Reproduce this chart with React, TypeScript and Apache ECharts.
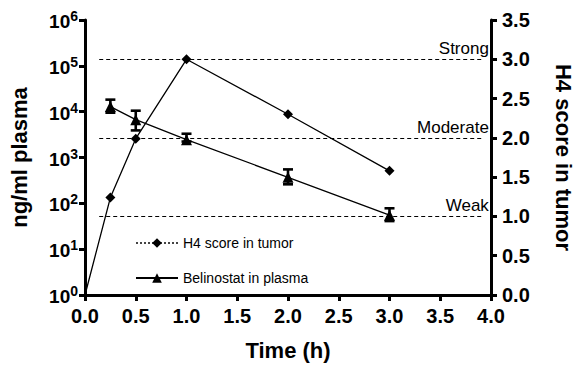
import React, { useEffect, useRef } from "react";
import * as echarts from "echarts";

const timeH4 = [0, 0.25, 0.5, 1, 2, 3];
const h4Score = [0, 1.24, 1.99, 3.0, 2.3, 1.58];
const timePlasma = [0.25, 0.5, 1, 2, 3];
const plasmaMean = [12900, 6700, 2450, 370, 55];
const plasmaLow = [9500, 3900, 2230, 260, 41];
const plasmaHigh = [18300, 10500, 3300, 550, 78];
const thresholdValues = [3, 2, 1];
const thresholdLabels = ["Strong", "Moderate", "Weak"];
const thresholdStart = 0.14;
const thresholdEnd = 3.92;

const FONT = "'Liberation Sans', Arial, Helvetica, sans-serif";

export default function App() {
  const ref = useRef<HTMLDivElement>(null);
  useEffect(() => {
    document.body.style.margin = "0";
    if (!ref.current) return;
    const chart = echarts.init(ref.current, undefined, { renderer: "svg" });
    const axisLine = { show: true, lineStyle: { color: "#000", width: 3 } };
    const axisTick = { show: true, inside: false, length: 6, lineStyle: { color: "#000", width: 3 } };
    const nameStyle = { fontSize: 22, fontWeight: "bold", color: "#000", fontFamily: FONT };
    const option: any = {
      animation: false,
      backgroundColor: "#fff",
      textStyle: { fontFamily: FONT },
      grid: { left: 84, right: 82, top: 20, bottom: 69, containLabel: false },
      legend: {
        orient: "vertical",
        left: 130,
        top: 231,
        itemWidth: 42,
        itemHeight: 12,
        itemGap: 21,
        textStyle: { fontSize: 14, color: "#000", fontFamily: FONT },
        data: [
          { name: "H4 score in tumor", lineStyle: { type: "dotted", color: "#444" } },
          { name: "Belinostat in plasma" },
        ],
      },
      xAxis: {
        type: "value",
        min: 0,
        max: 4,
        interval: 0.5,
        name: "Time (h)",
        nameLocation: "middle",
        nameGap: 44,
        nameTextStyle: nameStyle,
        axisLine,
        axisTick,
        splitLine: { show: false },
        axisLabel: {
          margin: 11,
          fontSize: 20,
          fontWeight: "bold",
          color: "#000",
          fontFamily: FONT,
          formatter: (v: number) => v.toFixed(1),
        },
      },
      yAxis: [
        {
          type: "log",
          logBase: 10,
          min: 1,
          max: 1e6,
          position: "left",
          name: "ng/ml plasma",
          nameLocation: "middle",
          nameGap: 55,
          nameTextStyle: nameStyle,
          axisLine,
          axisTick,
          splitLine: { show: false },
          minorTick: { show: false },
          axisLabel: {
            margin: 7,
            color: "#000",
            formatter: (v: number) => `{b|10}{s|${Math.round(Math.log10(v))}}`,
            rich: {
              b: { fontSize: 19, fontWeight: "bold", color: "#000", fontFamily: FONT, verticalAlign: "bottom", lineHeight: 22 },
              s: { fontSize: 14, fontWeight: "bold", color: "#000", fontFamily: FONT, verticalAlign: "top", lineHeight: 22 },
            },
          },
        },
        {
          type: "value",
          min: 0,
          max: 3.5,
          interval: 0.5,
          position: "right",
          name: "H4 score in tumor",
          nameLocation: "middle",
          nameRotate: -90,
          nameGap: 61,
          nameTextStyle: nameStyle,
          axisLine,
          axisTick,
          splitLine: { show: false },
          axisLabel: {
            margin: 11,
            fontSize: 20,
            fontWeight: "bold",
            color: "#000",
            fontFamily: FONT,
            formatter: (v: number) => v.toFixed(1),
          },
        },
      ],
      series: [
        {
          name: "H4 score in tumor",
          type: "line",
          yAxisIndex: 1,
          data: timeH4.map((t, i) => [t, h4Score[i]]),
          symbol: "diamond",
          symbolSize: (v: number[]) => (v[0] === 0 ? 0 : 10),
          showSymbol: true,
          itemStyle: { color: "#000" },
          lineStyle: { color: "#000", width: 1.3 },
          z: 3,
          markLine: {
            silent: true,
            symbol: "none",
            lineStyle: { color: "#000", type: [4, 3], width: 1.2 },
            label: {
              show: true,
              position: "insideEndTop",
              distance: [-6, 2],
              fontSize: 17,
              color: "#000",
              fontFamily: FONT,
            },
            data: thresholdValues.map((v, i) => [
              { coord: [thresholdStart, v], name: thresholdLabels[i], label: { formatter: thresholdLabels[i] } },
              { coord: [thresholdEnd, v] },
            ]),
          },
        },
        {
          name: "Belinostat in plasma",
          type: "line",
          yAxisIndex: 0,
          data: timePlasma.map((t, i) => [t, plasmaMean[i]]),
          symbol: "triangle",
          symbolSize: 11,
          itemStyle: { color: "#000" },
          lineStyle: { color: "#000", width: 1.3 },
          z: 4,
        },
        {
          name: "errors",
          type: "custom",
          yAxisIndex: 0,
          z: 5,
          data: timePlasma.map((t, i) => [t, plasmaLow[i], plasmaHigh[i]]),
          encode: { x: 0, y: [1, 2] },
          renderItem: (params: any, api: any) => {
            const x = api.value(0);
            const lo = api.coord([x, api.value(1)]);
            const hi = api.coord([x, api.value(2)]);
            const w = 5;
            const st = { stroke: "#000", lineWidth: 2.6 };
            return {
              type: "group",
              children: [
                { type: "line", shape: { x1: lo[0], y1: lo[1], x2: hi[0], y2: hi[1] }, style: st },
                { type: "line", shape: { x1: lo[0] - w, y1: lo[1], x2: lo[0] + w, y2: lo[1] }, style: st },
                { type: "line", shape: { x1: hi[0] - w, y1: hi[1], x2: hi[0] + w, y2: hi[1] }, style: st },
              ],
            };
          },
        },
      ],
    };
    chart.setOption(option);
    return () => chart.dispose();
  }, []);
  return <div ref={ref} style={{ width: 582, height: 366 }} />;
}
